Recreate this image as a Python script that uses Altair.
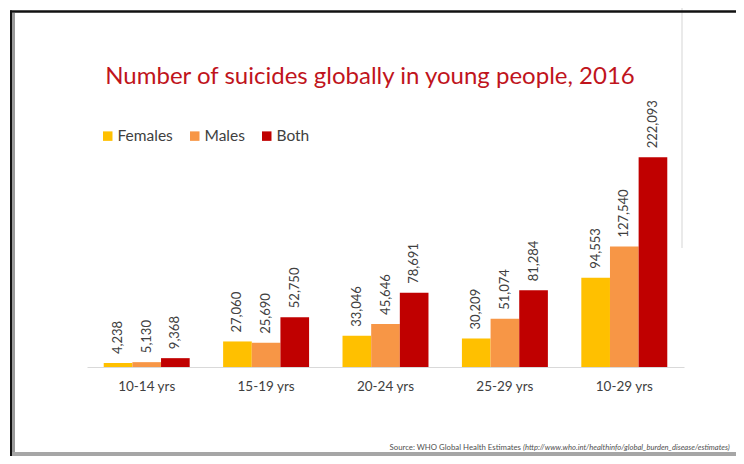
import altair as alt
import pandas as pd

categories = ["10-14 yrs", "15-19 yrs", "20-24 yrs", "25-29 yrs", "10-29 yrs"]
series_order = ["Females", "Males", "Both"]
females = [4238, 27060, 33046, 30209, 94553]
males = [5130, 25690, 45646, 51074, 127540]
both = [9368, 52750, 78691, 81284, 222093]
colors = ["#FFC000", "#F79646", "#C00000"]

title_text = "Number of suicides globally in young people, 2016"
source_plain = "Source: WHO Global Health Estimates"
source_italic = "(http://www.who.int/healthinfo/global_burden_disease/estimates)"

rows = []
for name, vals in zip(series_order, [females, males, both]):
    for c, v in zip(categories, vals):
        rows.append({"cat": c, "series": name, "value": v})
df = pd.DataFrame(rows)
one = pd.DataFrame({"a": [0]})

FONT = "Lato"
GREY = "#404040"

x_enc = alt.X("cat:N", sort=categories, title=None,
              scale=alt.Scale(paddingInner=0.28, paddingOuter=0.14),
              axis=alt.Axis(labelFont=FONT, labelFontSize=13.5, labelColor=GREY,
                            domainColor="#d9d9d9", domainWidth=1.2, ticks=False,
                            labelPadding=12, labelAngle=0))
xo_enc = alt.XOffset("series:N", sort=series_order)
y_enc = alt.Y("value:Q", scale=alt.Scale(domain=[0, 250000]), axis=None)

bars = alt.Chart(df).mark_bar().encode(
    x=x_enc, xOffset=xo_enc, y=y_enc,
    color=alt.Color("series:N", sort=series_order,
                    scale=alt.Scale(domain=series_order, range=colors),
                    legend=alt.Legend(orient="none", legendX=13, legendY=-3,
                                      direction="horizontal", title=None,
                                      symbolType="square", symbolSize=90,
                                      symbolStrokeWidth=0, symbolOpacity=1,
                                      labelFont=FONT, labelFontSize=15.5,
                                      labelColor=GREY, columnPadding=14,
                                      padding=0, labelOffset=2)),
)

labels = alt.Chart(df).mark_text(angle=270, align="left", baseline="middle",
                                 dx=9, font=FONT, fontSize=13, color=GREY).encode(
    x=x_enc, xOffset=xo_enc, y=y_enc,
    text=alt.Text("value:Q", format=","),
)

title = alt.Chart(one).mark_text(font=FONT, fontSize=24, color="#C0141C",
                                 align="center", baseline="alphabetic").encode(
    x=alt.value(283), y=alt.value(-47), text=alt.value(title_text))

src1 = alt.Chart(one).mark_text(font=FONT, fontSize=7.8, color="#505050",
                                align="right", baseline="middle").encode(
    x=alt.value(434), y=alt.value(317), text=alt.value(source_plain))
src2 = alt.Chart(one).mark_text(font=FONT, fontSize=7.6, fontStyle="italic",
                                color="#505050", align="left", baseline="middle").encode(
    x=alt.value(436), y=alt.value(317), text=alt.value(source_italic))

top_line = alt.Chart(one).mark_rule(color="#111111", strokeWidth=2.5).encode(
    x=alt.value(-77), x2=alt.value(649), y=alt.value(-119.5))
left_line = alt.Chart(one).mark_rule(color="#111111", strokeWidth=2).encode(
    x=alt.value(-76), y=alt.value(-120.5), y2=alt.value(325))
left_shadow = alt.Chart(one).mark_rule(color="#9a9a9a", strokeWidth=3).encode(
    x=alt.value(-73.5), y=alt.value(-118), y2=alt.value(325))
bottom_band = alt.Chart(one).mark_rule(color="#a6a6a6", strokeWidth=4).encode(
    x=alt.value(-75), x2=alt.value(649), y=alt.value(323))
right_line = alt.Chart(one).mark_rule(color="#e3e3e3", strokeWidth=1.5).encode(
    x=alt.value(595), y=alt.value(-123), y2=alt.value(117))

chart = alt.layer(
    right_line, bars, labels, title, src1, src2,
    top_line, left_shadow, left_line, bottom_band,
).properties(
    width=597, height=236,
    autosize=alt.AutoSizeParams(type="none"),
    padding={"left": 79, "top": 123, "right": 52, "bottom": 89},
    background="white",
).configure_view(stroke=None)

chart.save("out.html", embed_options={"renderer": "svg", "actions": False})
